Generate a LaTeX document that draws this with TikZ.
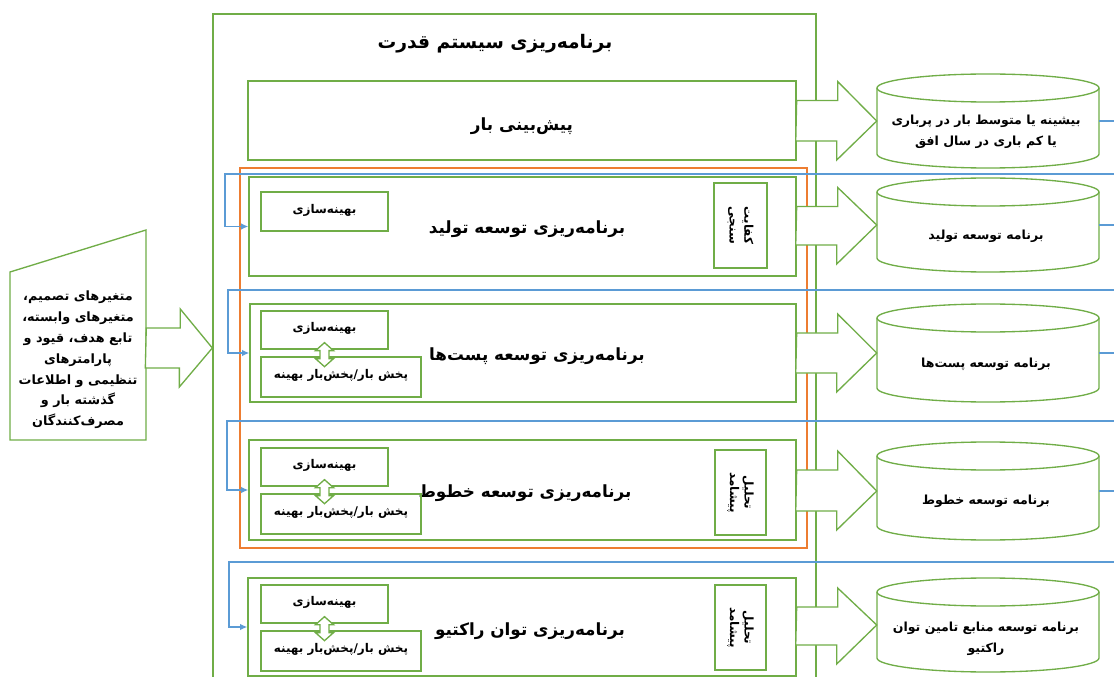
\documentclass[tikz,border=0pt]{standalone}
\usepackage{fontspec}
\newfontfamily\farsi[Script=Arabic]{DejaVu Sans}
\TeXXeTstate=1
\usetikzlibrary{arrows.meta,fit}

\definecolor{leafgreen}{RGB}{112,173,71}
\definecolor{rimorange}{RGB}{237,125,49}
\definecolor{loopblue}{RGB}{91,155,213}

% Persian text, set right to left
\newcommand{\fatxt}[1]{{\farsi\bfseries\beginR #1\endR}}
% same, inked a little lower to sit mid box
\newcommand{\fabox}[1]{\raisebox{-2.5pt}[\height][\depth]{\fatxt{#1}}}
% hollow block arrow: from, to, shaft length, head length
\newcommand{\fatarrow}[4]{%
  \draw[outline] (#1) ++(0,-20) -- ++(#3,0) -- ++(0,-19) -- (#2) -- ++(-#4,39)
    -- ++(0,-19) -- ++(-#3,0) -- cycle;}
% small two-headed arrow under a box
\newcommand{\twin}[1]{%
  \draw[outline] (#1) ++(0,-7) -- ++(9,8) -- ++(-4.5,0) -- ++(0,8) -- ++(4.5,0)
    -- ++(-9,8) -- ++(-9,-8) -- ++(4.5,0) -- ++(0,-8) -- ++(-4.5,0) -- cycle;}
% database drum: left x, top, bottom
\newcommand{\drum}[3]{%
  \draw[outline] (#1,#2+14) -- (#1,#3-14)
    .. controls (#1,#3-6.27) and (#1+49.7,#3) .. (#1+111,#3)
    .. controls (#1+172.3,#3) and (#1+222,#3-6.27) .. (#1+222,#3-14)
    -- (#1+222,#2+14);
  \draw[outline] (#1+111,#2+14) ellipse [x radius=83.25pt, y radius=10.5pt];}

\begin{document}
\begin{tikzpicture}[x=0.75pt,y=0.75pt,yscale=-1,
  gbox/.style={draw=leafgreen, line width=1pt, inner sep=0pt},
  obox/.style={draw=rimorange, line width=1pt, inner sep=0pt},
  bare/.style={inner sep=0pt},
  outline/.style={draw=leafgreen, line width=1pt, fill=white},
  systext/.style={font=\fontsize{14}{16}\selectfont},
  headtext/.style={font=\fontsize{12.6}{15}\selectfont},
  smalltext/.style={font=\fontsize{9}{11}\selectfont, align=center},
  notetext/.style={font=\fontsize{9.4}{15.5}\selectfont, align=center},
  fb/.style={draw=loopblue, line width=1.3pt},
  fbarrow/.style={fb, -{Latex[length=5.5pt,width=5pt]}}]

\useasboundingbox (0,0) rectangle (1114,677);
\clip (0,0) rectangle (1114,677);

% frame of the whole planning
\node[gbox, fit={(213,14) (816,682)}] (sys) {};
\node[systext] (systitle) at (495,44) {\fatxt{برنامه‌ریزی سیستم قدرت}};
\node[obox, fit={(240,168) (807,548)}] (grid) {};

% stages
\node[gbox, fit={(248,81) (796,160)}] (load) {};
\node[gbox, fit={(249,177) (796,276)}] (gen) {};
\node[gbox, fit={(250,304) (796,402)}] (sub) {};
\node[gbox, fit={(249,440) (796,540)}] (lines) {};
\node[gbox, fit={(248,578) (796,676)}] (var) {};

\node[headtext] (loadtitle) at (522,126) {\fatxt{پیش‌بینی بار}};
\node[headtext] (gentitle) at (527,229) {\fatxt{برنامه‌ریزی توسعه تولید}};
\node[headtext] (subtitle) at (537,356) {\fatxt{برنامه‌ریزی توسعه پست‌ها}};
\node[headtext] (linestitle) at (525,493) {\fatxt{برنامه‌ریزی توسعه خطوط}};
\node[headtext] (vartitle) at (530,631) {\fatxt{برنامه‌ریزی توان راکتیو}};

% optimisation and load flow boxes
\node[gbox, smalltext, fit={(261,192) (388,231)}] (gen-opt) {\fabox{بهینه‌سازی}};
\foreach \s/\y in {sub/311, lines/448, var/585} {
  \node[gbox, smalltext, fit={(261,\y) (388,\y+38)}] (\s-opt) {\fabox{بهینه‌سازی}};
  \node[gbox, smalltext, fit={(261,\y+46) (421,\y+86)}] (\s-flow) {\fabox{پخش بار/پخش‌بار بهینه}};
  \twin{\s-opt.south}
}

% adequacy and contingency checks
\node[gbox, fit={(714,183) (767,268)}] (gen-chk) {};
\node[smalltext, rotate=-90] at (gen-chk) {\fatxt{کفایت}\\\fatxt{سنجی}};
\node[gbox, fit={(715,450) (766,535)}] (lines-chk) {};
\node[smalltext, rotate=-90] at (lines-chk) {\fatxt{تحلیل}\\\fatxt{پیشامد}};
\node[gbox, fit={(715,585) (766,670)}] (var-chk) {};
\node[smalltext, rotate=-90] at (var-chk) {\fatxt{تحلیل}\\\fatxt{پیشامد}};

% feedback from the outputs
\coordinate (back-gen) at (1114,174);
\coordinate (back-sub) at (1114,290);
\coordinate (back-lines) at (1114,421);
\coordinate (back-var) at (1114,562);
\draw[fbarrow] (back-gen) -- (225,174) |- (gen.west);
\draw[fbarrow] (back-sub) -- (228,290) |- (sub.west);
\draw[fbarrow] (back-lines) -- (227,421) |- (lines.west);
\draw[fbarrow] (back-var) -- (229,562) |- (var.west);

% output drums
\node[bare, fit={(877,74) (1099,168)}] (peak) {};
\node[bare, fit={(877,178) (1099,272)}] (genplan) {};
\node[bare, fit={(877,304) (1099,402)}] (subplan) {};
\node[bare, fit={(877,442) (1099,540)}] (linesplan) {};
\node[bare, fit={(877,578) (1099,672)}] (varplan) {};
\drum{877}{74}{168}
\drum{877}{178}{272}
\drum{877}{304}{402}
\drum{877}{442}{540}
\drum{877}{578}{672}
\node[notetext] (peaktext) at (986,132) {\fatxt{بیشینه یا متوسط بار در پرباری}\\\fatxt{یا کم باری در سال افق}};
\node[notetext] (gentext) at (986,236) {\fatxt{برنامه توسعه تولید}};
\node[notetext] (subtext) at (986,364) {\fatxt{برنامه توسعه پست‌ها}};
\node[notetext] (linestext) at (986,501) {\fatxt{برنامه توسعه خطوط}};
\node[notetext] (vartext) at (986,639) {\fatxt{برنامه توسعه منابع تامین توان}\\\fatxt{راکتیو}};
\draw[fb] (peak.east) -- ++(20,0);
\draw[fb] (genplan.east) -- ++(20,0);
\draw[fb] (subplan.east) -- ++(20,0);
\draw[fb] (linesplan.east) -- ++(20,0);

\fatarrow{load.east}{peak.west}{41}{40}
\fatarrow{gen.east}{genplan.west}{41}{40}
\fatarrow{sub.east}{subplan.west}{41}{40}
\fatarrow{lines.east}{linesplan.west}{41}{40}
\fatarrow{var.east}{varplan.west}{41}{40}

% inputs
\draw[outline] (10,272) -- (146,230) -- (146,440) -- (10,440) -- cycle;
\node[bare, fit={(10,230) (146,440)}] (inp) {};
\node[notetext, font=\fontsize{9.6}{15.6}\selectfont] (inptext) at (78,360)
  {\fatxt{متغیرهای تصمیم،}\\\fatxt{متغیرهای وابسته،}\\\fatxt{تابع هدف، قیود و}\\\fatxt{پارامترهای}\\\fatxt{تنظیمی و اطلاعات}\\\fatxt{گذشته بار و}\\\fatxt{مصرف‌کنندگان}};
\fatarrow{inp.east |- sys.west}{sys.west}{34}{33}
\end{tikzpicture}
\end{document}
